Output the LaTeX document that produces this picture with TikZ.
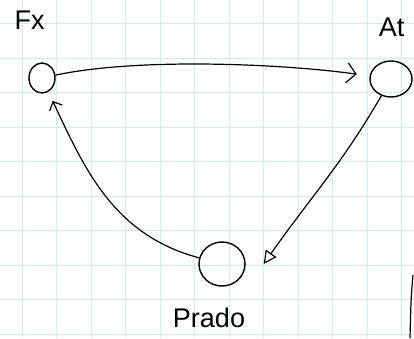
\documentclass[tikz,border=0pt]{standalone}
\usepackage{fontspec}
\setmainfont{Liberation Sans}
\usetikzlibrary{arrows.meta,shapes.geometric,calc}
\definecolor{gridblue}{RGB}{208,234,248}
\tikzset{
  >=Stealth,
  st/.style={ellipse,draw,inner sep=0pt,line width=1.4pt},
  tr/.style={line width=1.2pt},
  lbl/.style={font=\fontsize{27}{29}\selectfont},
  gridln/.style={gridblue, line width=0.9pt}
}

\begin{document}
\begin{tikzpicture}[x=1pt,y=1pt]
  % --- Canvas ---
  \useasboundingbox (0,0) rectangle (414,338);
  \fill[white] (0,0) rectangle (414,338);

  % --- Grid paper ---
  \foreach \gx in {0,...,11} \draw[gridln] ({22+34.5*\gx},0) -- ({22+34.5*\gx},338);
  \foreach \gy in {0,...,9} \draw[gridln] (0,{314.5-34.5*\gy}) -- (414,{314.5-34.5*\gy});

  % --- States ---
  \node[st, minimum width=26pt, minimum height=30pt] (fx) at (42,260) {};
  \node[st, minimum width=42pt, minimum height=36pt] (at) at (391,259) {};
  \node[st, minimum width=46pt, minimum height=44pt] (prado) at (222,74) {};

  % --- Labels ---
  \node[lbl] (fxlbl) at (29.5,318) {Fx};
  \node[lbl] (atlbl) at (391.5,311) {At};
  \node[lbl] (pradolbl) at (209,20.5) {Prado};

  % --- Transitions ---
  \draw[tr, -{Straight Barb[length=9pt,width=20pt]}, shorten >=13pt] (fx) to[out=12,in=172,looseness=0.7] (at);
  \draw[tr, -{Triangle[open,length=13pt,width=13pt]}] (at) to[out=240,in=55] ([xshift=18pt]prado.east);
  \draw[tr, -{Straight Barb[length=7pt,width=14pt]}, shorten >=10pt] (prado) to[out=165,in=-65] (fx);

  % --- Stroke at the right edge ---
  \draw[tr] (413,63) .. controls (411,40) .. (410,0);
\end{tikzpicture}
\end{document}
